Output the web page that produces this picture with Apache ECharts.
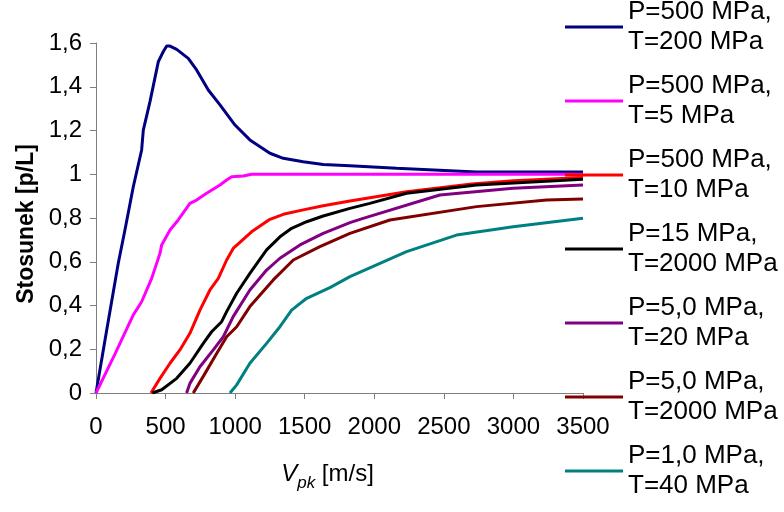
<!DOCTYPE html>
<html>
<head>
<meta charset="utf-8">
<script src="https://cdn.jsdelivr.net/npm/echarts@6/dist/echarts.min.js"></script>
<style>
html,body{margin:0;padding:0;background:#fff;}
#chart{width:784px;height:512px;}
</style>
</head>
<body>
<div id="chart"></div>
<script>
var xTicks = [0, 500, 1000, 1500, 2000, 2500, 3000, 3500];
var yTicks = [0, 0.2, 0.4, 0.6, 0.8, 1.0, 1.2, 1.4, 1.6];

var seriesNames = [
  'P=500 MPa,\nT=200 MPa',
  'P=500 MPa,\nT=5 MPa',
  'P=500 MPa,\nT=10 MPa',
  'P=15 MPa,\nT=2000 MPa',
  'P=5,0 MPa,\nT=20 MPa',
  'P=5,0 MPa,\nT=2000 MPa',
  'P=1,0 MPa,\nT=40 MPa'
];
var seriesColors = ['#000080', '#ff00ff', '#ff0000', '#000000', '#800080', '#800000', '#008080'];

var p500t200 = [[0,0],[77,0.288],[160,0.593],[208,0.745],[268,0.943],[328,1.111],[340,1.202],[388,1.332],[448,1.515],[484,1.561],[508,1.586],[532,1.586],[580,1.571],[663,1.530],[723,1.477],[807,1.385],[891,1.317],[999,1.225],[1106,1.157],[1250,1.096],[1346,1.073],[1489,1.057],[1633,1.045],[1825,1.039],[2160,1.027],[2735,1.010],[3500,1.010]];
var p500t5 = [[0,0],[136,0.178],[268,0.357],[328,0.417],[400,0.524],[460,0.639],[472,0.677],[532,0.745],[591,0.791],[675,0.867],[723,0.882],[795,0.913],[891,0.951],[939,0.974],[975,0.989],[1058,0.992],[1118,1.0],[3500,1.0]];
var p500t10 = [[395,0],[460,0.067],[532,0.136],[603,0.197],[675,0.273],[747,0.379],[819,0.471],[879,0.524],[939,0.608],[986,0.661],[1118,0.737],[1250,0.794],[1346,0.817],[1489,0.837],[1633,0.856],[1825,0.878],[2232,0.920],[2700,0.955],[3000,0.970],[3500,0.985]];
var p15t2000 = [[405,0],[472,0.015],[580,0.067],[675,0.136],[771,0.227],[831,0.280],[903,0.326],[939,0.372],[1011,0.456],[1106,0.547],[1226,0.654],[1322,0.714],[1406,0.753],[1514,0.783],[1633,0.809],[1825,0.844],[1968,0.867],[2232,0.913],[2735,0.951],[3500,0.977]];
var p5t20 = [[651,0],[675,0.044],[747,0.120],[843,0.197],[915,0.257],[986,0.349],[1106,0.471],[1226,0.562],[1322,0.616],[1466,0.677],[1633,0.730],[1825,0.779],[1920,0.798],[2471,0.905],[2998,0.936],[3500,0.951]];
var p5t2000 = [[699,0],[771,0.076],[867,0.181],[939,0.257],[1011,0.303],[1106,0.395],[1274,0.517],[1418,0.608],[1609,0.669],[1825,0.730],[2112,0.791],[2735,0.852],[3238,0.882],[3500,0.887]];
var p1t40 = [[963,0],[1011,0.037],[1106,0.136],[1226,0.227],[1322,0.303],[1406,0.379],[1514,0.433],[1681,0.482],[1825,0.532],[2232,0.646],[2591,0.722],[2998,0.760],[3500,0.799]];

var allData = [p500t200, p500t5, p500t10, p15t2000, p5t20, p5t2000, p1t40];

var chart = echarts.init(document.getElementById('chart'), null, {renderer: 'canvas'});
var FONT = 'Liberation Sans, Arial, sans-serif';

var series = allData.map(function (d, i) {
  return {
    name: seriesNames[i],
    type: 'line',
    data: d,
    symbol: 'none',
    smooth: false,
    color: seriesColors[i],
    lineStyle: {width: 3, color: seriesColors[i]},
    emphasis: {disabled: true},
    animation: false
  };
});

chart.setOption({
  backgroundColor: '#ffffff',
  animation: false,
  textStyle: {fontFamily: FONT},
  grid: {left: 96, right: 201, top: 43, bottom: 119, containLabel: false},
  legend: {
    orient: 'vertical',
    left: 565,
    top: -18,
    height: 700,
    padding: 0,
    itemGap: -16,
    itemWidth: 58,
    itemHeight: 3,
    icon: 'rect',
    selectedMode: false,
    data: seriesNames,
    textStyle: {fontSize: 26, color: '#000', lineHeight: 30, padding: [30, 0, 0, 0], fontFamily: FONT}
  },
  xAxis: {
    type: 'value',
    min: xTicks[0],
    max: xTicks[xTicks.length - 1],
    interval: 500,
    name: '{v|V}{s|pk}{n| [m/s]}',
    nameLocation: 'middle',
    nameGap: 69,
    nameTextStyle: {
      padding: [0, 24, 0, 0],
      rich: {
        v: {fontSize: 24, fontStyle: 'italic', color: '#000', fontFamily: FONT, padding: [0, 0, 6, 0], verticalAlign: 'bottom'},
        s: {fontSize: 17, fontStyle: 'italic', color: '#000', fontFamily: FONT, verticalAlign: 'bottom'},
        n: {fontSize: 24, color: '#000', fontFamily: FONT, padding: [0, 0, 6, 0], verticalAlign: 'bottom'}
      }
    },
    axisLine: {show: true, lineStyle: {color: '#7f7f7f', width: 1}},
    axisTick: {show: true, inside: false, length: 6, lineStyle: {color: '#7f7f7f'}},
    axisLabel: {
      fontSize: 24, color: '#000', margin: 22, fontFamily: FONT,
      formatter: function (v) { return String(Math.round(v)); }
    },
    splitLine: {show: false}
  },
  yAxis: {
    type: 'value',
    min: yTicks[0],
    max: yTicks[yTicks.length - 1],
    interval: 0.2,
    name: 'Stosunek [p/L]',
    nameLocation: 'middle',
    nameGap: 58,
    nameRotate: 90,
    nameTextStyle: {fontSize: 23, fontWeight: 'bold', color: '#000', fontFamily: FONT, padding: [0, 12, 0, 0]},
    axisLine: {show: true, lineStyle: {color: '#7f7f7f', width: 1}},
    axisTick: {show: true, inside: false, length: 6, lineStyle: {color: '#7f7f7f'}},
    axisLabel: {
      fontSize: 24, color: '#000', margin: 14, fontFamily: FONT,
      formatter: function (v) { return (Math.round(v * 10) / 10).toString().replace('.', ','); }
    },
    splitLine: {show: false}
  },
  series: series
});
</script>
</body>
</html>
